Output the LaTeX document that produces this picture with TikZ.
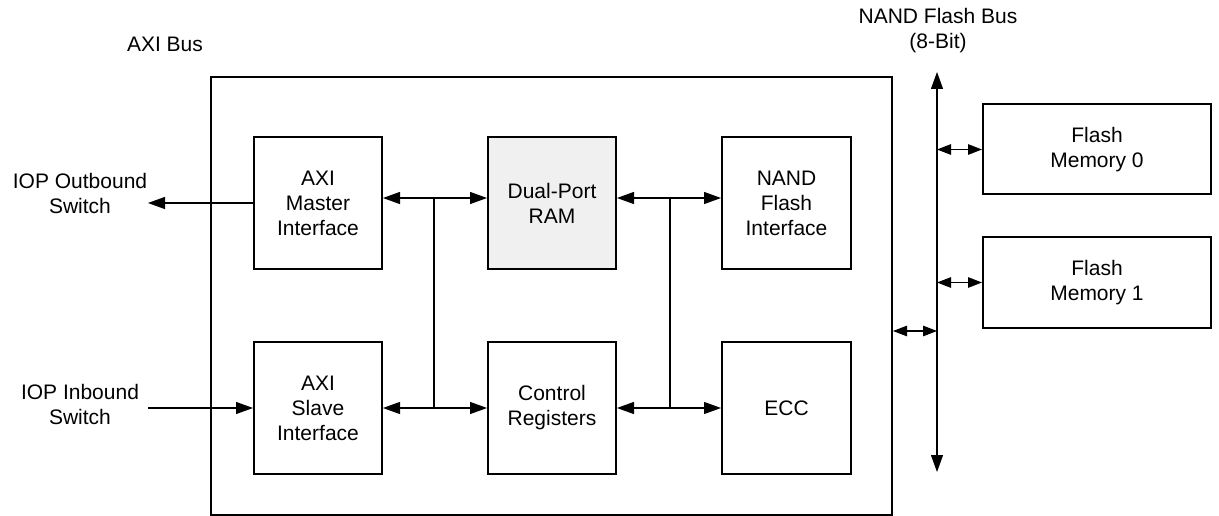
\documentclass[tikz,border=0pt]{standalone}
\usepackage{fontspec}
\setmainfont{Liberation Sans}
\usetikzlibrary{arrows.meta}
\definecolor{ramgray}{HTML}{F0F0F0}

\begin{document}
\begin{tikzpicture}[x=1pt, y=-1pt,
    blk/.style={draw, line width=2pt, minimum width=128pt, minimum height=132pt, align=center, inner sep=0pt},
    mem/.style={draw, line width=2pt, minimum width=228pt, minimum height=90pt, align=center},
    lbl/.style={align=center},
    wire/.style={line width=1.2pt},
    oneway/.style={wire, -{Triangle[length=17pt,width=12pt]}},
    bothway/.style={wire, {Triangle[length=17pt,width=12pt]}-{Triangle[length=17pt,width=12pt]}},
    shortway/.style={wire, {Triangle[length=14pt,width=10.5pt]}-{Triangle[length=14pt,width=10.5pt]}},
    font=\fontsize{21}{25}\selectfont]
  \useasboundingbox (0,0) rectangle (1219,516);
  % AXI bus frame
  \node[draw, line width=2pt, minimum width=681pt, minimum height=438pt] (axi) at (551.5,296) {};
  \node[lbl] (axilbl) at (165,44) {AXI Bus};
  % inner blocks
  \node[blk] (master) at (318,203) {AXI\\Master\\Interface};
  \node[blk, fill=ramgray] (ram) at (552,203) {Dual-Port\\RAM};
  \node[blk, minimum width=129pt] (nand) at (786.5,203) {NAND\\Flash\\Interface};
  \node[blk] (slave) at (318,408) {AXI\\Slave\\Interface};
  \node[blk] (ctrl) at (552,408) {Control\\Registers};
  \node[blk, minimum width=129pt] (ecc) at (786.5,408) {ECC};
  % inner links
  \coordinate (ltop) at (434,198);
  \coordinate (lbot) at (434,408);
  \coordinate (rtop) at (670,198);
  \coordinate (rbot) at (670,408);
  \draw[bothway] ([yshift=5pt]master.east) -- ([yshift=5pt]ram.west);
  \draw[bothway] ([yshift=5pt]ram.east) -- ([yshift=5pt]nand.west);
  \draw[bothway] (slave.east) -- (ctrl.west);
  \draw[bothway] (ctrl.east) -- (ecc.west);
  \draw[wire] (ltop) -- (lbot);
  \draw[wire] (rtop) -- (rbot);
  % IOP switches
  \node[lbl] (outsw) at (80,193) {IOP Outbound\\Switch};
  \node[lbl] (insw) at (80,404) {IOP Inbound\\Switch};
  \coordinate (outend) at (148,203);
  \coordinate (inend) at (148,408);
  \draw[oneway] (master.west) -- (outend);
  \draw[oneway] (inend) -- (slave.west);
  % flash side
  \node[lbl] (buslbl) at (938,31) {NAND Flash Bus\\(8-Bit)};
  \node[mem] (mem0) at (1097,149.5) {Flash\\Memory 0};
  \node[mem, minimum height=91pt] (mem1) at (1097,282.5) {Flash\\Memory 1};
  \coordinate (bustop) at (937,72);
  \coordinate (busbot) at (937,472);
  \coordinate (tap) at (937,331);
  \draw[bothway] (bustop) -- (busbot);
  \draw[shortway] (axi.east |- tap) -- (tap);
  \draw[shortway] (mem0.west -| bustop) -- (mem0.west);
  \draw[shortway] (mem1.west -| bustop) -- (mem1.west);
\end{tikzpicture}
\end{document}
